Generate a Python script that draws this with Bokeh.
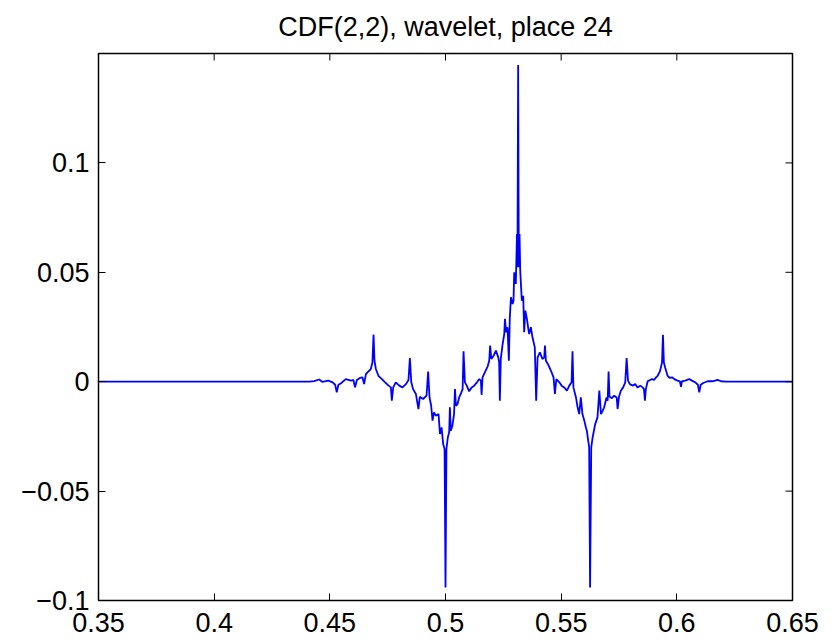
import math
from bokeh.plotting import figure
from bokeh.models import Range1d, FixedTicker
from bokeh.embed import file_html
from bokeh.resources import INLINE

title_text = "CDF(2,2), wavelet, place 24"

x_limits = [0.35, 0.65]
y_limits = [-0.1, 0.15]
x_ticks = [0.35, 0.40, 0.45, 0.50, 0.55, 0.60, 0.65]
x_tick_labels = ["0.35", "0.4", "0.45", "0.5", "0.55", "0.6", "0.65"]
y_ticks = [-0.1, -0.05, 0.0, 0.05, 0.1]
y_tick_labels = ["\u22120.1", "\u22120.05", "0", "0.05", "0.1"]

wavelet_x = [
    0.3500, 0.4411, 0.4432, 0.4454, 0.4468, 0.4493, 0.4512, 0.4523, 0.4530, 0.4537,
    0.4547, 0.4569, 0.4591, 0.4602, 0.4609, 0.4617, 0.4630, 0.4641, 0.4648, 0.4656,
    0.4667, 0.4677, 0.4684, 0.4689, 0.4693, 0.4699, 0.4710, 0.4725, 0.4739, 0.4754,
    0.4764, 0.4768, 0.4774, 0.4785, 0.4800, 0.4814, 0.4829, 0.4840, 0.4846, 0.4852,
    0.4860, 0.4872, 0.4883, 0.4889, 0.4903, 0.4918, 0.4925, 0.4931, 0.4938, 0.4944,
    0.4950, 0.4958, 0.4970, 0.4976, 0.4983, 0.4990, 0.4996, 0.5000, 0.5004, 0.5010,
    0.5016, 0.5019, 0.5023, 0.5030, 0.5037, 0.5041, 0.5045, 0.5052, 0.5059, 0.5066,
    0.5074, 0.5078, 0.5084, 0.5092, 0.5102, 0.5113, 0.5124, 0.5136, 0.5146, 0.5153,
    0.5156, 0.5160, 0.5170, 0.5182, 0.5189, 0.5193, 0.5198, 0.5208, 0.5218, 0.5228,
    0.5232, 0.5235, 0.5239, 0.5247, 0.5254, 0.5257, 0.5262, 0.5268, 0.5274, 0.5278,
    0.5283, 0.5290, 0.5294, 0.5297, 0.5304, 0.5309, 0.5311, 0.5312, 0.5314, 0.5316,
    0.5317, 0.5320, 0.5323, 0.5326, 0.5330, 0.5336, 0.5340, 0.5345, 0.5352, 0.5358,
    0.5362, 0.5369, 0.5376, 0.5386, 0.5392, 0.5398, 0.5408, 0.5419, 0.5427, 0.5430,
    0.5434, 0.5444, 0.5456, 0.5467, 0.5473, 0.5479, 0.5492, 0.5502, 0.5513, 0.5525,
    0.5535, 0.5545, 0.5549, 0.5553, 0.5564, 0.5571, 0.5578, 0.5585, 0.5592, 0.5600,
    0.5607, 0.5611, 0.5617, 0.5621, 0.5625, 0.5630, 0.5636, 0.5647, 0.5657, 0.5665,
    0.5672, 0.5679, 0.5686, 0.5696, 0.5701, 0.5705, 0.5709, 0.5719, 0.5729, 0.5740,
    0.5744, 0.5750, 0.5758, 0.5768, 0.5777, 0.5783, 0.5789, 0.5797, 0.5809, 0.5820,
    0.5830, 0.5842, 0.5852, 0.5858, 0.5862, 0.5866, 0.5874, 0.5884, 0.5892, 0.5902,
    0.5910, 0.5917, 0.5927, 0.5936, 0.5940, 0.5944, 0.5950, 0.5960, 0.5970, 0.5979,
    0.5989, 0.6003, 0.6013, 0.6018, 0.6022, 0.6036, 0.6054, 0.6065, 0.6080, 0.6091,
    0.6097, 0.6103, 0.6114, 0.6133, 0.6155, 0.6176, 0.6191, 0.6212, 0.6500,
]
wavelet_y = [
    0.0, 0.0, 0.0003, 0.0010, -0.0001, 0.0005, -0.0003, -0.0014, -0.0049, -0.0014,
    -0.0008, 0.0012, 0.0005, 0.0008, -0.0026, 0.0008, 0.0017, 0.0020, -0.0011, 0.0035,
    0.0047, 0.0058, 0.0088, 0.0215, 0.0096, 0.0058, 0.0027, 0.0012, -0.0003, -0.0018,
    -0.0026, -0.0087, -0.0026, -0.0003, -0.0018, -0.0026, -0.0011, 0.0008, 0.0108, -0.0003,
    -0.0034, -0.0056, -0.0125, -0.0069, -0.0079, -0.0064, 0.0046, -0.0072, -0.0110, -0.0178,
    -0.0140, -0.0155, -0.0148, -0.0239, -0.0209, -0.0285, -0.0308, -0.0940, -0.0308, -0.0255,
    -0.0230, -0.0117, -0.0224, -0.0200, -0.0148, -0.0034, -0.0110, -0.0102, -0.0072, -0.0056,
    -0.0034, 0.0139, -0.0003, -0.0018, -0.0044, -0.0026, -0.0018, -0.0003, 0.0012, 0.0005,
    -0.0060, 0.0020, 0.0043, 0.0069, 0.0096, 0.0165, 0.0104, 0.0119, 0.0142, 0.0111,
    0.0089, -0.0087, 0.0104, 0.0172, 0.0218, 0.0287, 0.0226, 0.0249, 0.0096, 0.0294,
    0.0386, 0.0355, 0.0370, 0.0500, 0.0447, 0.0675, 0.0523, 0.0814, 0.1447, 0.0814,
    0.0523, 0.0675, 0.0508, 0.0447, 0.0370, 0.0393, 0.0226, 0.0325, 0.0287, 0.0241,
    0.0218, 0.0249, 0.0203, 0.0157, -0.0087, 0.0111, 0.0134, 0.0104, 0.0111, 0.0165,
    0.0096, 0.0078, 0.0050, 0.0020, -0.0056, 0.0012, -0.0003, -0.0018, -0.0026, -0.0041,
    -0.0018, -0.0003, 0.0139, -0.0026, -0.0072, -0.0117, -0.0148, -0.0072, -0.0148, -0.0178,
    -0.0209, -0.0224, -0.0270, -0.0300, -0.0940, -0.0300, -0.0255, -0.0194, -0.0163, -0.0041,
    -0.0148, -0.0133, -0.0117, -0.0072, -0.0087, 0.0046, -0.0069, -0.0075, -0.0064, -0.0072,
    -0.0125, -0.0069, -0.0041, -0.0026, -0.0003, 0.0108, 0.0005, -0.0011, -0.0018, -0.0011,
    -0.0026, -0.0018, -0.0026, -0.0034, -0.0087, -0.0034, 0.0002, 0.0008, 0.0012, 0.0008,
    0.0020, 0.0027, 0.0047, 0.0088, 0.0215, 0.0088, 0.0063, 0.0027, 0.0017, 0.0020,
    0.0012, 0.0005, 0.0002, -0.0023, 0.0002, 0.0005, 0.0012, 0.0005, -0.0003, -0.0014,
    -0.0049, -0.0014, -0.0006, 0.0002, 0.0002, 0.0008, 0.0002, 0.0, 0.0,
]

FONT = "Liberation Sans"
FS = "27px"

p = figure(width=837, height=643, output_backend="svg", toolbar_location=None,
           x_range=Range1d(*x_limits), y_range=Range1d(*y_limits),
           min_border_left=98, min_border_top=53, min_border_right=45, min_border_bottom=43,
           background_fill_color="white", border_fill_color="white")

p.title.text = title_text
p.title.align = "center"
p.title.vertical_align = "top"
p.title.text_font = FONT
p.title.text_font_size = FS
p.title.text_font_style = "normal"
p.title.text_color = "black"
p.title.standoff = 19

p.xgrid.visible = False
p.ygrid.visible = False
p.outline_line_color = "black"
p.outline_line_width = 1.5
p.outline_line_alpha = 1.0

p.line(wavelet_x, wavelet_y, line_color="#0000FF", line_width=1.8)

for ax, ticks, labels in ((p.yaxis[0], y_ticks, y_tick_labels),
                          (p.xaxis[0], x_ticks, x_tick_labels)):
    ax.ticker = FixedTicker(ticks=ticks)
    ax.major_label_overrides = {t: s for t, s in zip(ticks, labels)}
    ax.major_label_text_font = FONT
    ax.major_label_text_font_size = FS
    ax.major_label_text_color = "black"
    ax.major_tick_in = 7
    ax.major_tick_out = 0
    ax.minor_tick_line_color = None
    ax.axis_line_color = None
    ax.major_tick_line_color = "black"

p.yaxis[0].major_label_standoff = 9
p.xaxis[0].major_label_standoff = 12

# inward tick marks mirrored on the top and right edges of the box
p.scatter(x_ticks, [y_limits[1]] * len(x_ticks), marker="dash", angle=math.pi / 2,
          size=14, line_color="black", line_width=1)
p.scatter([x_limits[1]] * len(y_ticks), y_ticks, marker="dash",
          size=14, line_color="black", line_width=1)

open("out.html", "w").write(file_html(p, INLINE))
